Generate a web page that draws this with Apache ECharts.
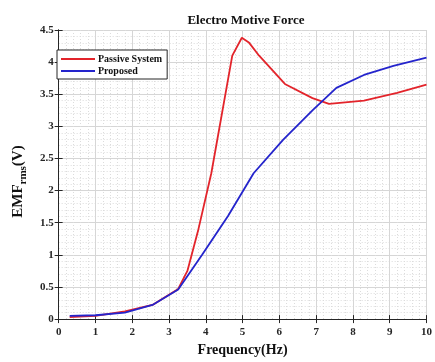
<!DOCTYPE html>
<html>
<head>
<meta charset="utf-8">
<script src="https://cdn.jsdelivr.net/npm/echarts@6/dist/echarts.min.js"></script>
<style>
  html, body {margin: 0; padding: 0; background: #fff;}
  #chart {width: 435px; height: 362px;}
</style>
</head>
<body>
<div id="chart"></div>
<script>
const passiveFreq = [0.3, 1.0, 1.8, 2.55, 3.25, 3.5, 3.8, 4.15, 4.72, 4.98, 5.18, 5.45, 6.15, 6.9, 7.35, 8.3, 9.2, 10];
const passiveEmf = [0.03, 0.05, 0.12, 0.22, 0.47, 0.75, 1.4, 2.27, 4.1, 4.38, 4.3, 4.1, 3.66, 3.44, 3.35, 3.4, 3.52, 3.65];
const proposedFreq = [0.3, 1.0, 1.8, 2.55, 3.25, 3.9, 4.6, 5.3, 6.1, 6.9, 7.55, 8.3, 9.1, 10];
const proposedEmf = [0.05, 0.06, 0.1, 0.22, 0.46, 1.0, 1.6, 2.27, 2.79, 3.25, 3.6, 3.8, 3.94, 4.07];
const seriesNames = ['Passive System', 'Proposed'];

const serif = '"Liberation Serif", "Times New Roman", serif';
const ink = '#262626';

const zip = (xs, ys) => xs.map((x, i) => [x, ys[i]]);

const baseAxis = {
  axisLine: {show: true, lineStyle: {color: ink, width: 1}},
  axisTick: {show: true, inside: true, length: 4, lineStyle: {color: ink}},
  minorTick: {show: false, splitNumber: 5},
};

const chart = echarts.init(document.getElementById('chart'));
chart.setOption({
  backgroundColor: '#fff',
  animation: false,
  color: ['#e3242b', '#2424cc'],
  title: {
    text: 'Electro Motive Force',
    left: 241,
    top: 9,
    textAlign: 'center',
    textStyle: {fontFamily: serif, fontWeight: 'bold', fontSize: 13, color: '#111'}
  },
  legend: {
    orient: 'vertical',
    left: 57,
    top: 50,
    padding: [4, 5, 3, 4],
    itemGap: 2,
    itemWidth: 34,
    itemHeight: 2,
    icon: 'rect',
    backgroundColor: '#fff',
    borderColor: ink,
    borderWidth: 1,
    borderRadius: 0,
    textStyle: {fontFamily: serif, fontWeight: 'bold', fontSize: 10, color: '#111', padding: [0, 0, 0, -2]},
    data: seriesNames
  },
  grid: {left: 53, right: 6, top: 30, bottom: 36, containLabel: false},
  xAxis: [{
    ...baseAxis,
    type: 'value',
    min: 0, max: 10, interval: 1,
    name: 'Frequency(Hz)',
    nameLocation: 'middle',
    nameGap: 23,
    nameTextStyle: {fontFamily: serif, fontWeight: 'bold', fontSize: 14, color: '#111'},
    axisLabel: {fontFamily: serif, fontWeight: 'bold', fontSize: 11, color: ink, margin: 8},
    splitLine: {show: true, lineStyle: {color: '#d6d6d6', width: 1}},
    minorSplitLine: {show: true, lineStyle: {color: '#dcdcdc', width: 1, type: [1, 2]}}
  }, {
    ...baseAxis,
    type: 'value', position: 'top',
    min: 0, max: 10, interval: 1,
    axisLabel: {show: false},
    splitLine: {show: false}
  }],
  yAxis: [{
    ...baseAxis,
    type: 'value',
    min: 0, max: 4.5, interval: 0.5,
    name: '{b|EMF}{s|rms}{b|(V)}',
    nameLocation: 'middle',
    nameGap: 30,
    nameTextStyle: {
      padding: [0, 14, 0, 0],
      rich: {
        b: {fontFamily: serif, fontWeight: 'bold', fontSize: 15, color: '#111', lineHeight: 20},
        s: {fontFamily: serif, fontWeight: 'bold', fontSize: 11, color: '#111', lineHeight: 20, padding: [10, 0, 0, 0]}
      }
    },
    axisLabel: {fontFamily: serif, fontWeight: 'bold', fontSize: 11, color: ink, margin: 5},
    splitLine: {show: true, lineStyle: {color: '#d6d6d6', width: 1}},
    minorSplitLine: {show: true, lineStyle: {color: '#dcdcdc', width: 1, type: [1, 2]}}
  }, {
    ...baseAxis,
    type: 'value', position: 'right',
    min: 0, max: 4.5, interval: 0.5,
    axisLabel: {show: false},
    splitLine: {show: false}
  }],
  series: [
    {name: seriesNames[0], data: zip(passiveFreq, passiveEmf)},
    {name: seriesNames[1], data: zip(proposedFreq, proposedEmf)}
  ].map(obj => ({
    ...obj,
    type: 'line',
    xAxisIndex: 0,
    yAxisIndex: 0,
    symbol: 'none',
    lineStyle: {width: 1.8}
  }))
});
</script>
</body>
</html>
